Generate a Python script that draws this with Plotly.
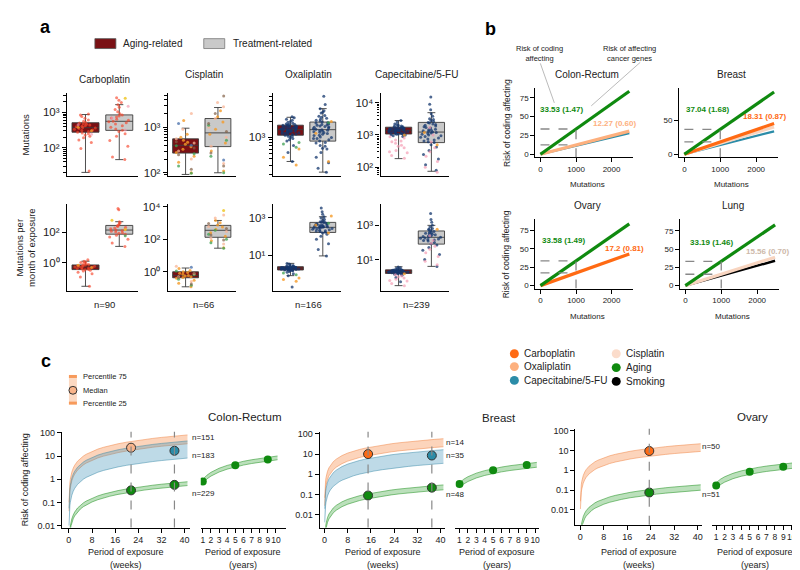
import plotly.graph_objects as go

# ======================= DATA =======================
# ---- panel a : box summaries [lower whisker, Q1, median, Q3, upper whisker]
DRUGS_A = ["Carboplatin", "Cisplatin", "Oxaliplatin", "Capecitabine/5-FU"]
N_A = ["n=90", "n=66", "n=166", "n=239"]

CARBO_MUT_AGING = [20, 275, 370, 510, 870]
CARBO_MUT_TREAT = [46, 310, 560, 850, 1660]
CIS_MUT_AGING = [92, 270, 400, 555, 950]
CIS_MUT_TREAT = [100, 375, 750, 1550, 2700]
OXA_MUT_AGING = [350, 1100, 1400, 1700, 2400]
OXA_MUT_TREAT = [220, 850, 1400, 1950, 3500]
CAPE_MUT_AGING = [185, 1070, 1400, 1740, 2800]
CAPE_MUT_TREAT = [75, 580, 1230, 2450, 4900]

CARBO_RATE_AGING = [0.03, 0.37, 0.55, 0.74, 1.3]
CARBO_RATE_TREAT = [12, 75, 140, 280, 490]
CIS_RATE_AGING = [0.12, 0.43, 0.6, 1.0, 1.7]
CIS_RATE_TREAT = [28, 130, 350, 700, 1400]
OXA_RATE_AGING = [0.8, 1.6, 2.0, 2.4, 3.6]
OXA_RATE_TREAT = [9, 160, 300, 550, 1100]
CAPE_RATE_AGING = [0.3, 1.55, 2.0, 2.5, 3.8]
CAPE_RATE_TREAT = [4, 80, 200, 470, 1000]

# ---- panel a : individual samples (by dot colour)
CARBO_MUT_AGING_PTS = {
    "red": [22, 95, 140, 165, 190, 210, 230, 250, 262, 275, 290, 305, 320, 335, 350, 362, 375,
            390, 405, 420, 440, 460, 480, 500, 525, 560, 610, 680, 760, 850, 900],
    "orange": [380, 300], "pink": [240, 450]}
CARBO_MUT_TREAT_PTS = {
    "red": [46, 55, 110, 160, 210, 250, 290, 310, 340, 380, 420, 470, 510, 540, 560, 600, 640,
            690, 740, 790, 850, 920, 1050, 1200, 1400, 1650, 1900, 2200, 2600],
    "pink": [320, 700, 1500], "yellow": [2500]}
CIS_MUT_AGING_PTS = {
    "orange": [100, 170, 230, 280, 330, 370, 420, 470, 520, 600, 700, 1400],
    "green": [98, 140, 260, 390], "peach": [200, 300, 450, 560, 900, 2000],
    "brown": [120, 250, 350, 480], "blue": [1200, 400]}
CIS_MUT_TREAT_PTS = {
    "orange": [110, 300, 450, 700, 900, 1300, 1700, 2300],
    "peach": [160, 380, 600, 1000, 1550, 2800, 3500], "green": [100, 230, 520, 1100],
    "brown": [140, 270, 800, 1200, 2000, 4800], "blue": [190]}
OXA_MUT_AGING_PTS = {
    "navy": [350, 520, 700, 850, 950, 1000, 1050, 1100, 1130, 1160, 1200, 1230, 1260, 1300, 1330,
             1360, 1390, 1420, 1450, 1480, 1510, 1550, 1590, 1630, 1670, 1700, 1750, 1800, 1860,
             1930, 2000, 2100, 2200, 2350, 2450, 1150, 1250, 1350, 1450, 1550, 1650, 1050, 1400,
             1600, 900, 1180, 1280, 1320, 1440, 1500, 1580, 1720, 1780, 1240, 1380],
    "orange": [420, 600, 300], "green": [650, 800, 750]}
OXA_MUT_TREAT_PTS = {
    "navy": [220, 260, 330, 420, 520, 620, 700, 780, 850, 900, 950, 1000, 1080, 1150, 1220, 1300,
             1360, 1420, 1500, 1580, 1650, 1720, 1800, 1880, 1950, 2050, 2200, 2400, 2600, 2900,
             3200, 3500, 4200, 6000, 1100, 1250, 1400, 1600, 1900, 800, 1350, 2500, 1700, 950, 600,
             1020, 1180, 1450, 1550, 1750, 2100, 2300, 3000, 680, 1280],
    "orange": [350, 1200, 2000], "green": [1900]}
CAPE_MUT_AGING_PTS = {
    "navy": [900, 950, 1000, 1050, 1080, 1100, 1150, 1200, 1250, 1300, 1330, 1370, 1400, 1430,
             1470, 1500, 1550, 1600, 1650, 1700, 1750, 1800, 1900, 2000, 2200, 2500, 2800, 1120,
             1220, 1350, 1450, 1520, 1620, 1020, 1380, 1280, 1180, 1240, 1310, 1410, 1490, 1580,
             1680, 1850, 2100, 1060],
    "pink": [190, 230, 280, 330, 400, 480, 550, 620, 700, 800, 880, 300, 450, 650],
    "orange": [1000]}
CAPE_MUT_TREAT_PTS = {
    "navy": [80, 120, 180, 250, 330, 420, 500, 580, 650, 750, 850, 950, 1050, 1150, 1230, 1350,
             1500, 1650, 1800, 2000, 2200, 2450, 2800, 3200, 3800, 4500, 6000, 9000, 15000, 700,
             1100, 1400, 1900, 2600, 900, 1300, 620, 800, 1000, 1200, 1450, 1700, 2100, 2350, 3000],
    "pink": [70, 100, 150, 220, 300, 400, 600, 1000, 1700], "orange": [1200, 500]}

CARBO_RATE_AGING_PTS = {
    "red": [0.03, 0.12, 0.2, 0.25, 0.3, 0.33, 0.36, 0.38, 0.4, 0.43, 0.46, 0.5, 0.52, 0.55, 0.58,
            0.6, 0.63, 0.66, 0.7, 0.74, 0.8, 0.88, 0.95, 1.05, 1.15, 1.3, 1.6],
    "orange": [0.5, 0.7]}
CARBO_RATE_TREAT_PTS = {
    "red": [12, 20, 35, 50, 65, 75, 85, 95, 105, 115, 125, 140, 155, 170, 190, 210, 240, 270, 300,
            350, 420, 490, 3000, 3500],
    "yellow": [600, 150], "green": [60]}
CIS_RATE_AGING_PTS = {
    "orange": [0.12, 0.2, 0.3, 0.4, 0.45, 0.5, 0.55, 0.6, 0.7, 0.8, 0.9, 1.0, 1.2, 1.6],
    "green": [0.15, 0.35, 0.65, 1.1], "peach": [0.25, 0.5, 0.75, 2.2], "blue": [1.9],
    "brown": [0.18, 0.45, 0.85]}
CIS_RATE_TREAT_PTS = {
    "orange": [30, 80, 150, 250, 400, 550, 750, 1000, 1400],
    "peach": [50, 120, 300, 600, 2000, 3000], "green": [28, 60, 100, 200, 350],
    "brown": [90, 180, 450, 900], "yellow": [5800]}
OXA_RATE_AGING_PTS = {
    "navy": [0.8, 1.0, 1.2, 1.35, 1.45, 1.55, 1.6, 1.65, 1.7, 1.75, 1.8, 1.85, 1.9, 1.95, 2.0, 2.05,
             2.1, 2.15, 2.2, 2.25, 2.3, 2.35, 2.4, 2.5, 2.6, 2.8, 3.0, 3.3, 3.6, 1.5, 1.9, 2.0, 2.2,
             1.7, 2.45, 0.2, 1.62, 1.78, 1.88, 2.02, 2.12, 2.28, 1.98, 2.08],
    "orange": [0.4, 0.6, 0.5], "green": [0.9, 1.1]}
OXA_RATE_TREAT_PTS = {
    "navy": [9, 20, 40, 70, 100, 130, 150, 165, 180, 200, 220, 240, 260, 280, 300, 320, 345, 370,
             400, 430, 470, 520, 560, 620, 700, 800, 950, 1100, 1500, 2000, 3200, 250, 350, 450,
             190, 290, 600, 210, 270, 310, 330, 380, 420, 500],
    "orange": [150, 400, 1200], "green": [500]}
CAPE_RATE_AGING_PTS = {
    "navy": [0.5, 0.9, 1.2, 1.4, 1.5, 1.55, 1.6, 1.7, 1.75, 1.8, 1.85, 1.9, 1.95, 2.0, 2.05, 2.1,
             2.2, 2.3, 2.4, 2.5, 2.6, 2.8, 3.0, 3.3, 3.7, 1.65, 2.15, 2.35, 1.9, 2.0, 1.58, 1.72,
             1.82, 1.92, 2.02, 2.12, 2.25, 2.45],
    "pink": [0.3, 0.4, 0.55, 0.7, 0.85, 1.0, 1.1, 1.3, 0.6], "orange": [1.5]}
CAPE_RATE_TREAT_PTS = {
    "navy": [4, 10, 20, 35, 50, 70, 85, 100, 120, 140, 160, 180, 200, 220, 250, 280, 320, 370,
             430, 480, 550, 650, 800, 1000, 1500, 2200, 5000, 150, 300, 130, 175, 210, 240, 350,
             400, 600],
    "pink": [5, 8, 15, 25, 40, 60, 90, 130, 250], "orange": [600]}

# ---- panel b : risk (%) per 1000 mutations (slope) for each signature
B_MUTATIONS = [0, 2500]
CR_SLOPES = [("capecitabine", 11.2), ("oxaliplatin", 12.27), ("aging", 33.53)]
BREAST_SLOPES = [("capecitabine", 13.6), ("cisplatin", 16.2), ("carboplatin", 18.31), ("aging", 37.04)]
OVARY_SLOPES = [("carboplatin", 17.2), ("aging", 33.58)]
LUNG_SLOPES = [("smoking", 13.6), ("cisplatin", 15.56), ("aging", 33.19)]
CR_LABELS = ["33.53 (1.47)", "12.27 (0.60)"]
BREAST_LABELS = ["37.04 (1.68)", "18.31 (0.87)"]
OVARY_LABELS = ["33.58 (1.49)", "17.2 (0.81)"]
LUNG_LABELS = ["33.19 (1.46)", "15.56 (0.70)"]

# ---- panel c : risk per week of exposure (25th / 75th percentile rates) and medians
WEEKS = [0.05, 0.1, 0.2, 0.35, 0.5, 0.75, 1, 1.5, 2, 3, 4, 5, 6, 8, 10, 12, 14, 17, 20, 23, 26,
         29, 32, 35, 38, 41]
YEARS = [1, 1.5, 2, 3, 4, 5, 6, 7, 8, 9, 10, 10.2]
YEAR_TICKS = [1, 2, 3, 4, 5, 6, 7, 8, 9, 10]
WEEK_TICKS = [0, 8, 16, 24, 32, 40]
RISK_TICKS = [0.01, 0.1, 1, 10, 100]
RISK_TICKTEXT = ["0.01", "0.1", "1", "10", "100"]

CR_OXA_RATE = [0.83, 2.0]
CR_CAPE_RATE = [0.2, 1.1]
CR_AGING_RATE = [0.013, 0.019]
CR_AGING_YEAR_RATE = [0.68, 0.99]
CR_MED_WEEKS = [21.5, 36.5]
CR_MED_OXA = [23]
CR_MED_CAPE = [17]
CR_MED_AGING = [0.33, 0.57]
CR_YEAR_AGING = [0.8, 4.0, 7.2]
CR_N = ["n=151", "n=183", "n=229"]

BR_CARBO_RATE = [0.56, 1.4]
BR_CAPE_RATE = [0.085, 0.4]
BR_AGING_RATE = [0.0042, 0.0073]
BR_AGING_YEAR_RATE = [0.22, 0.38]
BR_MED_WEEKS = [15, 37]
BR_MED_CARBO = [10]
BR_MED_CAPE = [8.5]
BR_MED_AGING = [0.09, 0.22]
BR_YEAR_AGING = [0.33, 1.6, 2.9]
BR_N = ["n=14", "n=35", "n=48"]

OV_CARBO_RATE = [0.22, 0.54]
OV_AGING_RATE = [0.0024, 0.0045]
OV_AGING_YEAR_RATE = [0.125, 0.234]
OV_MED_WEEKS = [23.5]
OV_MED_CARBO = [9.5]
OV_MED_AGING = [0.075]
OV_YEAR_AGING = [0.17, 0.85, 1.5]
OV_N = ["n=50", "n=51"]
YEAR_DOT_X = [1, 5, 9]

# ======================= STYLE =======================
W, H = 800, 570
FONT = "Liberation Sans, Arial, Helvetica, sans-serif"
TXT = "#222222"
AGING_FILL = "#7A1014"
TREAT_FILL = "#C9C9C9"
BOX_LINE = "#3C3C3C"
PT_COLORS = {"red": "rgba(248,70,45,0.65)", "orange": "rgba(245,155,40,0.8)",
             "yellow": "rgba(240,200,40,0.85)", "pink": "rgba(244,150,175,0.65)",
             "peach": "rgba(248,180,150,0.75)", "green": "rgba(60,160,80,0.75)",
             "brown": "rgba(130,95,70,0.7)", "blue": "rgba(70,110,170,0.75)",
             "navy": "rgba(20,55,110,0.75)"}
LINE_COLORS = {"aging": "#0F8A0F", "carboplatin": "#FF6A13", "oxaliplatin": "#FDB07E",
               "capecitabine": "#2B8CA8", "cisplatin": "#F8D5C0", "smoking": "#000000"}
LINE_WIDTHS = {"aging": 3.2, "carboplatin": 3.2, "oxaliplatin": 3.2, "capecitabine": 2.2,
               "cisplatin": 3.2, "smoking": 2.4}
GREEN = "#0F8A0F"
BAND = {"orange": ("rgba(248,160,105,0.45)", "rgba(240,140,80,0.55)"),
        "blue": ("rgba(70,150,185,0.35)", "rgba(60,140,170,0.5)"),
        "green": ("rgba(60,165,60,0.35)", "rgba(40,150,40,0.55)")}

fig = go.Figure()
layout_axes = {}
annotations = []
shapes = []
counter = [0]


def new_axes(x0, x1, y0, y1, xspec, yspec):
    counter[0] += 1
    k = counter[0]
    s = "" if k == 1 else str(k)
    layout_axes["xaxis" + s] = dict(domain=[x0 / W, x1 / W], anchor="y" + s, **xspec)
    layout_axes["yaxis" + s] = dict(domain=[1 - y1 / H, 1 - y0 / H], anchor="x" + s, **yspec)
    return "x" + s, "y" + s


def axis(**kw):
    d = dict(showline=True, linecolor="black", linewidth=1.1, ticks="outside", ticklen=4,
             tickwidth=1, tickcolor="black", showgrid=False, zeroline=False,
             tickfont=dict(size=8, family=FONT, color=TXT))
    d.update(kw)
    return d


def text(x, y, s, size=9, color=TXT, bold=False, xanchor="center", yanchor="middle", angle=0):
    annotations.append(dict(x=x / W, y=1 - y / H, xref="paper", yref="paper",
                            text=f"<b>{s}</b>" if bold else s, showarrow=False,
                            font=dict(size=size, color=color, family=FONT),
                            xanchor=xanchor, yanchor=yanchor, textangle=angle))


def pshape(kind, x0, y0, x1, y1, **kw):
    shapes.append(dict(type=kind, xref="paper", yref="paper", x0=x0 / W, x1=x1 / W,
                       y0=1 - y0 / H, y1=1 - y1 / H, **kw))


# ======================= PANEL a =======================
text(38, 15, "a", size=18, bold=True, color="black")
pshape("rect", 87, 27, 108, 37, fillcolor=AGING_FILL, line=dict(color="#555", width=0.8))
text(113, 32, "Aging-related", size=10, xanchor="left")
pshape("rect", 196, 27, 217, 37, fillcolor=TREAT_FILL, line=dict(color="#777", width=0.8))
text(223, 32, "Treatment-related", size=10, xanchor="left")

A_X = [(59, 130), (160, 228), (265, 333), (373, 442)]
A_TITLE_Y = [68, 63, 63, 63]
TOP_RANGES = [[1.2, 3.55], [1.93, 3.75], [2.27, 3.84], [1.73, 4.3]]
TOP_TICKS = [[100, 1000], [100, 1000], [1000], [100, 1000, 10000]]
BOT_RANGES = [[-1.8, 3.87], [-1.15, 4.18], [-0.89, 3.74], [-0.81, 4.27]]
BOT_TICKS = [[1, 100], [1, 100, 10000], [10, 1000], [10, 1000]]
EXP_TEXT = {1: "10\u2070", 10: "10\u00b9", 100: "10\u00b2", 1000: "10\u00b3", 10000: "10\u2074"}
MINOR = [k * 10 ** e for e in range(0, 5) for k in range(2, 10)]

TOP_STATS = [(CARBO_MUT_AGING, CARBO_MUT_TREAT), (CIS_MUT_AGING, CIS_MUT_TREAT),
             (OXA_MUT_AGING, OXA_MUT_TREAT), (CAPE_MUT_AGING, CAPE_MUT_TREAT)]
BOT_STATS = [(CARBO_RATE_AGING, CARBO_RATE_TREAT), (CIS_RATE_AGING, CIS_RATE_TREAT),
             (OXA_RATE_AGING, OXA_RATE_TREAT), (CAPE_RATE_AGING, CAPE_RATE_TREAT)]
TOP_PTS = [(CARBO_MUT_AGING_PTS, CARBO_MUT_TREAT_PTS), (CIS_MUT_AGING_PTS, CIS_MUT_TREAT_PTS),
           (OXA_MUT_AGING_PTS, OXA_MUT_TREAT_PTS), (CAPE_MUT_AGING_PTS, CAPE_MUT_TREAT_PTS)]
BOT_PTS = [(CARBO_RATE_AGING_PTS, CARBO_RATE_TREAT_PTS), (CIS_RATE_AGING_PTS, CIS_RATE_TREAT_PTS),
           (OXA_RATE_AGING_PTS, OXA_RATE_TREAT_PTS), (CAPE_RATE_AGING_PTS, CAPE_RATE_TREAT_PTS)]


def box_panel(xpix, ypix, yrange, ticks, minor, stats, pts):
    yspec = axis(type="log", range=yrange, tickmode="array", tickvals=ticks,
                 ticktext=[EXP_TEXT[t] for t in ticks], tickfont=dict(size=11.5, family=FONT, color=TXT))
    if minor:
        yspec["minor"] = dict(tickmode="array", tickvals=MINOR, ticks="outside", ticklen=2.5,
                              tickwidth=0.8, tickcolor="black", showgrid=False)
    xa, ya = new_axes(xpix[0], xpix[1], ypix[0], ypix[1],
                      axis(range=[-0.55, 1.55], ticks="", showticklabels=False), yspec)
    for pos, st, fill in [(0, stats[0], AGING_FILL), (1, stats[1], TREAT_FILL)]:
        fig.add_trace(go.Box(x=[pos], lowerfence=[st[0]], q1=[st[1]], median=[st[2]], q3=[st[3]],
                             upperfence=[st[4]], fillcolor=fill,
                             line=dict(color=BOX_LINE, width=0.9), width=0.8, whiskerwidth=0.3,
                             boxpoints=False, xaxis=xa, yaxis=ya, hoverinfo="skip"))
    for pos, group in [(0, pts[0]), (1, pts[1])]:
        for cname, vals in group.items():
            fig.add_trace(go.Box(y=vals, x0=pos, boxpoints="all", jitter=0.85, pointpos=0,
                                 fillcolor="rgba(0,0,0,0)", line=dict(color="rgba(0,0,0,0)", width=0),
                                 whiskerwidth=0, width=0.8,
                                 marker=dict(color=PT_COLORS[cname], size=3),
                                 xaxis=xa, yaxis=ya, hoverinfo="skip"))


for i in range(4):
    box_panel(A_X[i], (82, 166), TOP_RANGES[i], TOP_TICKS[i], True, TOP_STATS[i], TOP_PTS[i])
    box_panel(A_X[i], (194, 282), BOT_RANGES[i], BOT_TICKS[i], False, BOT_STATS[i], BOT_PTS[i])
    cx = (A_X[i][0] + A_X[i][1]) / 2
    text(cx + 2, A_TITLE_Y[i], DRUGS_A[i], size=10)
    text(cx + 2, 296, N_A[i], size=9.5)
text(17, 124, "Mutations", size=9.5, angle=-90)
text(17, 238, "Mutations per<br>month of exposure", size=9.5, angle=-90)

# ======================= PANEL b =======================
text(483, 17, "b", size=18, bold=True, color="black")
text(532, 42, "Risk of coding<br>affecting", size=7.5)
text(622, 42, "Risk of affecting<br>cancer genes", size=7.5)
pshape("line", 533, 52, 547, 92, line=dict(color="#BBBBBB", width=1))
pshape("line", 633, 51, 584, 95, line=dict(color="#BBBBBB", width=1))


def b_panel(xpix, ypix, yrange, yticks, slopes, labels, lab_pos, treat_color, title, show_ytitle):
    xa, ya = new_axes(xpix[0], xpix[1], ypix[0], ypix[1],
                      axis(range=[-145, 2610], tickvals=[0, 1000, 2000]),
                      axis(range=yrange, tickvals=yticks))
    for name, slope in slopes:
        fig.add_trace(go.Scatter(x=B_MUTATIONS, y=[slope * m / 1000 for m in B_MUTATIONS],
                                 mode="lines", line=dict(color=LINE_COLORS[name], width=LINE_WIDTHS[name]),
                                 xaxis=xa, yaxis=ya, hoverinfo="skip"))
    aging = dict(slopes)["aging"]
    treat = [s for n, s in slopes if n != "aging"][-1]
    dash = dict(color="#888888", width=1.3, dash="dash")
    for yv in (aging, treat):
        shapes.append(dict(type="line", xref=xa, yref=ya, x0=0, x1=1000, y0=yv, y1=yv, line=dash))
    shapes.append(dict(type="line", xref=xa, yref=ya, x0=1000, x1=1000, y0=yrange[0], y1=aging, line=dash))
    text(lab_pos[0][0], lab_pos[0][1], labels[0], size=8, bold=True, color=GREEN, xanchor="left")
    text(lab_pos[1][0], lab_pos[1][1], labels[1], size=8, bold=True, color=treat_color, xanchor="left")
    cx = (xpix[0] + xpix[1]) / 2
    text(cx + 3, ypix[0] - 14, title, size=10)
    text(cx + 3, ypix[1] + 28, "Mutations", size=8)
    if show_ytitle:
        text(499, (ypix[0] + ypix[1]) / 2, "Risk of coding affecting", size=8.5, angle=-90)


b_panel((528, 626), (77, 147), [-4, 88], [0, 25, 50, 75], CR_SLOPES, CR_LABELS,
        [(531, 99), (584, 113)], "#FDB07E", "Colon-Rectum", True)
b_panel((672, 771), (77, 147), [-4.4, 98.5], [0, 50], BREAST_SLOPES, BREAST_LABELS,
        [(677, 99), (734, 106)], "#FF6A13", "Breast", False)
b_panel((528, 626), (210, 280), [-4, 90], [0, 25, 50, 75], OVARY_SLOPES, OVARY_LABELS,
        [(533, 231), (596, 239)], "#FF6A13", "Ovary", True)
b_panel((673, 772), (210, 280), [-4, 90.5], [0, 25, 50, 75], LUNG_SLOPES, LUNG_LABELS,
        [(681, 233), (737, 242)], "#CDB8A8", "Lung", False)

# ======================= PANEL c =======================
text(38, 353, "c", size=18, bold=True, color="black")
# percentile key
pshape("rect", 61, 369, 69, 396, fillcolor="rgba(248,170,120,0.45)", line=dict(width=0))
pshape("line", 61, 369, 69, 369, line=dict(color="#F79A5B", width=3))
pshape("line", 61, 396, 69, 396, line=dict(color="#F79A5B", width=3))
pshape("circle", 61, 379, 69, 387, fillcolor="#F9B48A", line=dict(color="#333", width=1))
text(73, 369, "Percentile 75", size=7.5, xanchor="left")
text(73, 383, "Median", size=7.5, xanchor="left")
text(73, 396, "Percentile 25", size=7.5, xanchor="left")
# colour key
KEY = [(507, 346, "#FF6A13", "Carboplatin"), (507, 359, "#FDB07E", "Oxaliplatin"),
       (507, 373, "#2B8CA8", "Capecitabine/5-FU"), (609, 346, "#FBDCCB", "Cisplatin"),
       (609, 360, GREEN, "Aging"), (609, 374, "#000000", "Smoking")]
for kx, ky, kc, kt in KEY:
    pshape("circle", kx - 4.5, ky - 4.5, kx + 4.5, ky + 4.5, fillcolor=kc, line=dict(width=0))
    text(kx + 8, ky, kt, size=10, xanchor="left")


def band(xa, ya, t, rate, key):
    fill, edge = BAND[key]
    fig.add_trace(go.Scatter(x=t, y=[rate[1] * v for v in t], mode="lines",
                             line=dict(color=edge, width=1), xaxis=xa, yaxis=ya, hoverinfo="skip"))
    fig.add_trace(go.Scatter(x=t, y=[rate[0] * v for v in t], mode="lines",
                             line=dict(color=edge, width=1), fill="tonexty", fillcolor=fill,
                             xaxis=xa, yaxis=ya, hoverinfo="skip"))


def dots(xa, ya, xs, ys, color, outline=True, size=9):
    fig.add_trace(go.Scatter(x=xs, y=ys, mode="markers",
                             marker=dict(color=color, size=size,
                                         line=dict(color="#333333", width=1 if outline else 0)),
                             xaxis=xa, yaxis=ya, hoverinfo="skip"))


def c_axes(wx, yx, ypix, yrange):
    ytick = axis(type="log", range=yrange, tickmode="array", tickvals=RISK_TICKS,
                 ticktext=RISK_TICKTEXT, tickfont=dict(size=9, family=FONT, color=TXT))
    xw = axis(range=[wx[2], wx[3]], tickvals=WEEK_TICKS, tickangle=0,
              tickfont=dict(size=9, family=FONT, color=TXT))
    xaw, yaw = new_axes(wx[0], wx[1], ypix[0], ypix[1], xw, ytick)
    xy = axis(range=[yx[2], yx[3]], tickvals=YEAR_TICKS, tickangle=0,
              tickfont=dict(size=8.5, family=FONT, color=TXT))
    xay, yay = new_axes(yx[0], yx[1], ypix[0], ypix[1], xy,
                        dict(type="log", range=yrange, visible=False))
    for cx, lab in [((wx[0] + wx[1]) / 2, "(weeks)"), ((yx[0] + yx[1]) / 2, "(years)")]:
        text(cx, 547, "Period of exposure", size=9)
        text(cx, 560, lab, size=9)
    return xaw, yaw, xay, yay


def vdash(xa, ya, xs):
    for xv in xs:
        shapes.append(dict(type="line", xref=xa, yref=ya + " domain", x0=xv, x1=xv, y0=0, y1=1,
                           line=dict(color="#888888", width=1.2, dash="dash")))


# Colon-Rectum
xw, yw, xy, yy = c_axes((54, 182, -2.4, 41.8), (193, 278, 0.75, 11.2), (425, 522), [-2.09, 2.05])
text(17, 473, "Risk of coding affecting", size=9, angle=-90)
band(xw, yw, WEEKS, CR_OXA_RATE, "orange")
band(xw, yw, WEEKS, CR_CAPE_RATE, "blue")
band(xw, yw, WEEKS, CR_AGING_RATE, "green")
vdash(xw, yw, CR_MED_WEEKS)
dots(xw, yw, CR_MED_WEEKS[:1], CR_MED_OXA, "#F9B48A")
dots(xw, yw, CR_MED_WEEKS[1:], CR_MED_CAPE, "#2B8CA8")
dots(xw, yw, CR_MED_WEEKS, CR_MED_AGING, GREEN)
band(xy, yy, YEARS, CR_AGING_YEAR_RATE, "green")
dots(xy, yy, YEAR_DOT_X, CR_YEAR_AGING, GREEN, outline=False, size=8)
text(237, 410, "Colon-Rectum", size=11.5)
for (ny, lab) in zip([431, 449, 487], CR_N):
    text(182, ny, lab, size=8, xanchor="left")

# Breast
xw, yw, xy, yy = c_axes((312, 438, -1.72, 41.7), (448, 532, 0.52, 10.5), (425, 522), [-2.63, 2.1])
band(xw, yw, WEEKS, BR_CARBO_RATE, "orange")
band(xw, yw, WEEKS, BR_CAPE_RATE, "blue")
band(xw, yw, WEEKS, BR_AGING_RATE, "green")
vdash(xw, yw, BR_MED_WEEKS)
dots(xw, yw, BR_MED_WEEKS[:1], BR_MED_CARBO, "#FF6A13")
dots(xw, yw, BR_MED_WEEKS[1:], BR_MED_CAPE, "#2B8CA8")
dots(xw, yw, BR_MED_WEEKS, BR_MED_AGING, GREEN)
band(xy, yy, YEARS, BR_AGING_YEAR_RATE, "green")
dots(xy, yy, YEAR_DOT_X, BR_YEAR_AGING, GREEN, outline=False, size=8)
text(492, 411, "Breast", size=11.5)
for (ny, lab) in zip([436, 449, 488], BR_N):
    text(437, ny, lab, size=8, xanchor="left")

# Ovary
xw, yw, xy, yy = c_axes((568, 695, -1.7, 41.5), (705, 790, 0.52, 10.64), (422, 519), [-2.75, 2.1])
band(xw, yw, WEEKS, OV_CARBO_RATE, "orange")
band(xw, yw, WEEKS, OV_AGING_RATE, "green")
vdash(xw, yw, OV_MED_WEEKS)
dots(xw, yw, OV_MED_WEEKS, OV_MED_CARBO, "#FF6A13")
dots(xw, yw, OV_MED_WEEKS, OV_MED_AGING, GREEN)
band(xy, yy, YEARS, OV_AGING_YEAR_RATE, "green")
dots(xy, yy, YEAR_DOT_X, OV_YEAR_AGING, GREEN, outline=False, size=8)
text(745, 410, "Ovary", size=11.5)
for (ny, lab) in zip([440, 489], OV_N):
    text(693, ny, lab, size=8, xanchor="left")

fig.update_layout(width=W, height=H, margin=dict(l=0, r=0, t=0, b=0), showlegend=False,
                  plot_bgcolor="white", paper_bgcolor="white", boxmode="overlay",
                  font=dict(family=FONT, color=TXT), annotations=annotations, shapes=shapes,
                  **layout_axes)
fig.write_html("out.html", config={"displayModeBar": False})
